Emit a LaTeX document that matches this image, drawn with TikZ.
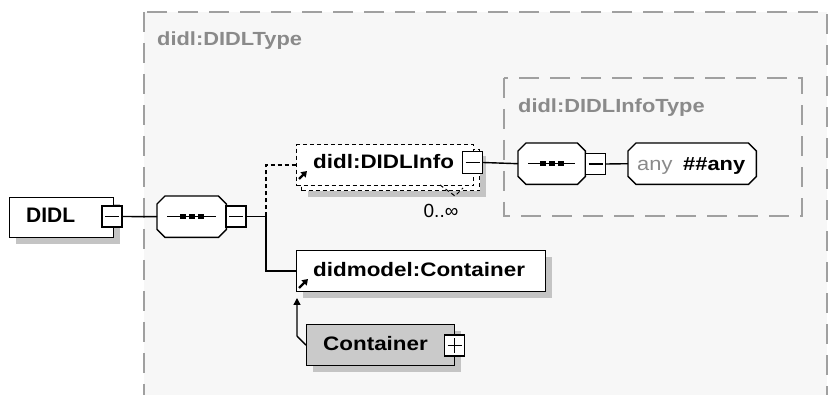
\documentclass[tikz,border=0pt]{standalone}
\usepackage{fontspec}
\setmainfont{Liberation Sans}
\newfontfamily\lbl[FakeStretch=1.15]{Liberation Sans}
\usetikzlibrary{shadows,arrows.meta}
\definecolor{bggray}{HTML}{F7F7F7}
\definecolor{dashgray}{HTML}{A0A0A0}
\definecolor{titlegray}{HTML}{8A8A8A}
\definecolor{shadowgray}{HTML}{C4C4C4}
\definecolor{boxgray}{HTML}{CACACA}
\newcommand\octpath[1]{([xshift=8pt]#1.north west) -- ([xshift=-8pt]#1.north east) -- ([yshift=-8pt]#1.north east) -- ([yshift=8pt]#1.south east) -- ([xshift=-8pt]#1.south east) -- ([xshift=8pt]#1.south west) -- ([yshift=8pt]#1.south west) -- ([yshift=-8pt]#1.north west) -- cycle}
\newcommand\drawocto[1]{%
  \fill[shadowgray, shift={(6pt,-6pt)}] \octpath{#1};
  \filldraw[fill=white, draw=black, line width=1.4pt] \octpath{#1};}
\newcommand\seqdots[1]{%
  \draw[line width=1.2pt] ([xshift=10pt]#1.west) -- ([xshift=-10pt]#1.east);
  \foreach \dx in {-9,0,9} \fill[black] ([xshift=\dx pt-2.8pt, yshift=-2.8pt]#1.center) rectangle +(5.6pt,5.6pt);}
\tikzset{
  shadowed/.style={general shadow={fill=shadowgray, shadow xshift=6pt, shadow yshift=-6pt}},
  elem/.style={rectangle, draw=black, line width=1.4pt, fill=white, inner sep=0pt, anchor=north west, shadowed},
  optelem/.style={rectangle, draw=black, line width=1.4pt, fill=white, inner sep=0pt, anchor=north west, dash pattern=on 4pt off 3pt},
  octo/.style={rectangle, inner sep=0pt, anchor=north west},
  toggle/.style={rectangle, draw=black, line width=1.2pt, fill=white, minimum width=20pt, minimum height=21pt, inner sep=0pt,
      path picture={\draw[line width=1.1pt] ([xshift=3pt]path picture bounding box.west) -- ([xshift=-3pt]path picture bounding box.east);}},
  plustoggle/.style={rectangle, draw=black, line width=1.2pt, fill=white, minimum width=20pt, minimum height=21pt, inner sep=0pt,
      path picture={\draw[line width=1.1pt] ([xshift=3pt]path picture bounding box.west) -- ([xshift=-3pt]path picture bounding box.east);
                    \draw[line width=1.1pt] ([yshift=3pt]path picture bounding box.south) -- ([yshift=-3pt]path picture bounding box.north);}},
  link/.style={line width=1.4pt, draw=black},
  optlink/.style={line width=1.4pt, draw=black, dash pattern=on 4pt off 3pt},
  grp/.style={draw=dashgray, line width=1.8pt, dash pattern=on 20pt off 11pt, fill=bggray},
  lab/.style={inner sep=0pt, anchor=base west, font=\lbl\bfseries\fontsize{19.5}{22}\selectfont},
  grptitle/.style={inner sep=0pt, anchor=base west, text=titlegray, font=\lbl\bfseries\fontsize{19}{22}\selectfont},
  refarrow/.style={line width=2.2pt, -{Triangle[length=5.5pt,width=7pt]}},
}
\begin{document}
\begin{tikzpicture}[x=1pt,y=-1pt]
\useasboundingbox (0,0) rectangle (828,395);
\fill[white] (0,0) rectangle (828,395);
% outer group
\draw[grp] (144,12) rectangle (827,410);
\node[grptitle] (t1) at (157,46) {didl:DIDLType};
% inner group
\draw[grp] (504,78) rectangle (802,216);
\node[grptitle] (t2) at (518,113) {didl:DIDLInfoType};

% DIDL
\node[elem, minimum width=104pt, minimum height=40pt] (didl) at (9,197) {};
\node[inner sep=0pt, anchor=base west, font=\bfseries\fontsize{21}{24}\selectfont] (didltxt) at (26,223) {DIDL};
\node[toggle] (didltog) at (112,216.5) {};

% sequence 1
\node[octo, minimum width=69pt, minimum height=41pt] (seq1) at (157,196) {};
\drawocto{seq1}
\seqdots{seq1}
\node[toggle] (seq1tog) at (236,216.5) {};
\coordinate (J) at (266,216.5);

% DIDLInfo (multiple)
\node[optelem, minimum width=178pt, minimum height=41pt, shadowed] (infoback) at (301,149) {};
\node[optelem, minimum width=177pt, minimum height=41pt] (info) at (296,144) {};
\node[lab] (infotxt) at (313,169) {didl:DIDLInfo};
\node[toggle, minimum height=22pt] (infotog) at (472.5,162.5) {};
\draw[refarrow] (299,179) -- (307,171);
\draw[optlink, line width=1pt] (440,185) -- (455,196) -- (463,188);
\node[inner sep=0pt, font=\fontsize{19}{22}\selectfont] (occ) at (441,211) {0..∞};

% sequence 2
\node[octo, minimum width=67pt, minimum height=41pt] (seq2) at (518,143) {};
\drawocto{seq2}
\seqdots{seq2}
\node[toggle] (seq2tog) at (595.5,164) {};
% any
\node[octo, minimum width=128pt, minimum height=41pt] (any) at (628,143) {};
\drawocto{any}
\node[inner sep=0pt, anchor=base west, text=titlegray, font=\lbl\fontsize{19}{22}\selectfont] (anytxt) at (637,171) {any};
\node[inner sep=0pt, anchor=base west, font=\lbl\bfseries\fontsize{19}{22}\selectfont] (anyns) at (683,171) {\#\#any};

% didmodel:Container
\node[elem, minimum width=249pt, minimum height=41pt] (dm) at (296,250) {};
\node[lab] (dmtxt) at (313,277) {didmodel:Container};
\draw[refarrow] (299,288) -- (308,279);

% Container
\node[elem, fill=boxgray, minimum width=148pt, minimum height=41pt] (cont) at (306,324) {};
\node[lab] (conttxt) at (323,351) {Container};
\node[plustoggle] (conttog) at (454.5,345.5) {};
\coordinate (bend) at (297,336);
\coordinate (tip) at (297,298);

% connectors
\draw[link] (didltog.east) -- (seq1.west);
\draw[link] (seq1tog.east) -- (J);
\draw[optlink] (J) |- (info.west);
\draw[link] (J) |- (dm.west);
\draw[link] (infotog.east) -- (seq2.west);
\draw[link] (seq2tog.east) -- (any.west);
\draw[line width=1.4pt, -{Triangle[length=7pt,width=7pt]}] (cont.west) -- (bend) -- (tip);
\end{tikzpicture}
\end{document}
